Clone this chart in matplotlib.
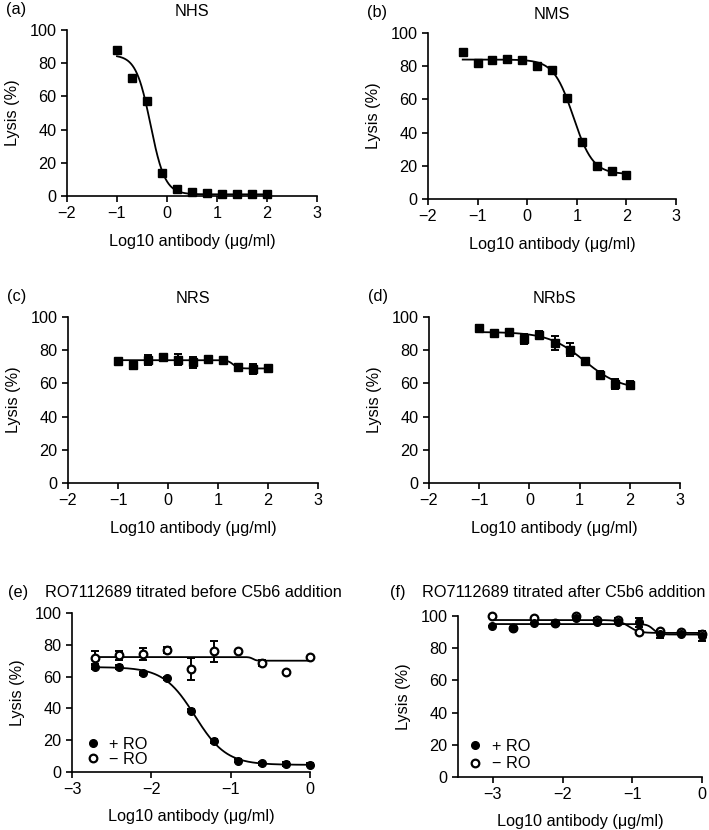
import numpy as np
import matplotlib
matplotlib.use('Agg')
import matplotlib.pyplot as plt
from matplotlib.lines import Line2D

plt.rcParams['font.family'] = ['Liberation Sans', 'DejaVu Sans']
FS = 11.7

# panel (a) NHS
a_x = [-1.0, -0.7, -0.4, -0.1, 0.2, 0.5, 0.8, 1.1, 1.4, 1.7, 2.0]
a_y = [88, 71, 57, 14, 4.5, 2.5, 2, 1.5, 1.5, 1, 1]
a_fit = [85, 1, -0.33, -3.0]  # top, bottom, logIC50, hill

# panel (b) NMS
b_x = [-1.3, -1.0, -0.7, -0.4, -0.1, 0.2, 0.5, 0.8, 1.1, 1.4, 1.7, 2.0]
b_y = [88.4, 82, 84, 84.5, 84, 80.3, 78, 61, 34.3, 20, 17, 14.5]
b_err = [2, 1.5, 1, 1, 1, 1, 1, 1, 1.5, 1, 1, 1]
b_fit = [84, 15, 0.93, -2.2]

# panel (c) NRS
c_x = [-1.0, -0.7, -0.4, -0.1, 0.2, 0.5, 0.8, 1.1, 1.4, 1.7, 2.0]
c_y = [73.3, 70.9, 74.3, 75.7, 74.3, 72.7, 74.7, 74, 69.9, 68.5, 69.3]
c_err = [1, 2, 3, 1, 3.5, 3.5, 1, 1, 2, 3, 1]
c_fit = [74, 69, 1.3, -8]

# panel (d) NRbS
d_x = [-1.0, -0.7, -0.4, -0.1, 0.2, 0.5, 0.8, 1.1, 1.4, 1.7, 2.0]
d_y = [93.4, 90.4, 90.8, 87, 89.4, 84.3, 80.3, 73.3, 65.3, 59.8, 59.2]
d_err = [1.5, 1, 2, 3, 2, 4, 4, 2, 2, 3, 2]
d_fit = [91, 56, 1.1, -1.2]

# panel (e) titrated before C5b6
e_x = [-2.709, -2.408, -2.107, -1.806, -1.505, -1.204, -0.903, -0.602, -0.301, 0]
e_plus = [66, 66, 62, 59, 38.5, 19.5, 7, 5.5, 5, 4.5]
e_plus_err = [1, 1, 1, 1, 1, 1, 1, 1, 1, 1]
e_minus = [72, 73.3, 74.3, 76.8, 64.6, 75.8, 75.8, 68.4, 62.7, 72.6]
e_minus_err = [4.2, 3, 4, 2, 7, 6.5, 0, 2, 0, 0]
e_plus_fit = [66, 4.5, -1.45, -2.2]
e_minus_fit = [72.3, 70, -0.72, -20]

# panel (f) titrated after C5b6
f_x = [-3.010, -2.709, -2.408, -2.107, -1.806, -1.505, -1.204, -0.903, -0.602, -0.301, 0]
f_plus = [93.8, 92.4, 95.5, 95.5, 98.6, 96.5, 96.5, 96, 89, 89, 87.6]
f_plus_err = [0, 1, 0, 0, 0, 1.5, 1, 3, 2.5, 0, 3]
f_minus = [100, 92.4, 98.9, 95.5, 100, 97.5, 97.5, 90.2, 90.5, 90.2, 88.6]
f_minus_err = [0, 0, 0, 0, 0, 1, 1, 0, 1, 0, 0]
f_plus_fit = [95, 88.5, -0.7, -10]
f_minus_fit = [97.5, 89.5, -1.05, -6]

xlabel = 'Log10 antibody (μg/ml)'


def logistic(x, p):
    top, bottom, logic50, hill = p
    return bottom + (top - bottom) / (1 + 10 ** ((logic50 - x) * hill))


def px_axes(fig, left, right, top, bottom):
    W, H = 709, 830
    return fig.add_axes([left / W, 1 - bottom / H, (right - left) / W, (bottom - top) / H])


def style(ax, xlim, xticks, xpad):
    ax.set_xlim(*xlim)
    ax.set_ylim(0, 100)
    ax.set_xticks(xticks)
    ax.set_yticks([0, 20, 40, 60, 80, 100])
    for s in ['top', 'right']:
        ax.spines[s].set_visible(False)
    for s in ['left', 'bottom']:
        ax.spines[s].set_linewidth(1.2)
    ax.tick_params(direction='out', length=4, width=1.2, labelsize=FS, pad=3.5)
    ax.set_xlabel(xlabel, fontsize=FS, labelpad=xpad)
    ax.set_ylabel('Lysis (%)', fontsize=FS, labelpad=7)


def square_panel(ax, x, y, err, fit, name, letter):
    xs = np.linspace(min(x), max(x), 300)
    ax.plot(xs, logistic(xs, fit), color='black', lw=1.3, clip_on=False)
    if err is not None:
        ax.errorbar(x, y, yerr=err, fmt='none', ecolor='black', elinewidth=1.4,
                    capsize=3, capthick=1.4, clip_on=False)
    ax.plot(x, y, 's', color='black', ms=5.8, clip_on=False, zorder=5)
    style(ax, (-2, 3), [-2, -1, 0, 1, 2, 3], 9)
    ax.set_title(name, fontsize=FS, pad=10)
    ax.text(-0.245, 1.095, letter, transform=ax.transAxes, fontsize=FS)


def circle_panel(ax, x, yp, ep, ym, em, fp, fm, xlim, leg_pos, leg_sp):
    xs = np.linspace(min(x), max(x), 300)
    ax.plot(xs, logistic(xs, fm), color='black', lw=1.3, clip_on=False)
    ax.plot(xs, logistic(xs, fp), color='black', lw=1.3, clip_on=False)
    ax.errorbar(x, ym, yerr=em, fmt='none', ecolor='black', elinewidth=1.4,
                capsize=3, capthick=1.4, clip_on=False)
    ax.errorbar(x, yp, yerr=ep, fmt='none', ecolor='black', elinewidth=1.4,
                capsize=3, capthick=1.4, clip_on=False)
    ax.plot(x, ym, 'o', mfc='white', mec='black', mew=1.6, ms=5.5, clip_on=False, zorder=5)
    ax.plot(x, yp, 'o', color='black', ms=5.5, clip_on=False, zorder=6)
    style(ax, xlim, [-3, -2, -1, 0], 8)
    handles = [Line2D([], [], ls='none', marker='o', color='black', ms=5.5),
               Line2D([], [], ls='none', marker='o', mfc='white', mec='black', mew=1.6, ms=5.5)]
    ax.legend(handles, ['+ RO', '− RO'], loc='lower left', frameon=False, fontsize=FS,
              handlelength=1.0, handletextpad=0.5, labelspacing=leg_sp, borderpad=0,
              bbox_to_anchor=leg_pos)


fig = plt.figure(figsize=(7.09, 8.30), dpi=100)

ax_a = px_axes(fig, 67, 317, 30, 196)
square_panel(ax_a, a_x, a_y, None, a_fit, 'NHS', '(a)')

ax_b = px_axes(fig, 428, 676, 33, 199)
square_panel(ax_b, b_x, b_y, b_err, b_fit, 'NMS', '(b)')

ax_c = px_axes(fig, 68, 318, 317, 483)
square_panel(ax_c, c_x, c_y, c_err, c_fit, 'NRS', '(c)')

ax_d = px_axes(fig, 429, 680, 317, 483)
square_panel(ax_d, d_x, d_y, d_err, d_fit, 'NRbS', '(d)')

ax_e = px_axes(fig, 72, 310, 613, 772)
circle_panel(ax_e, e_x, e_plus, e_plus_err, e_minus, e_minus_err,
             e_plus_fit, e_minus_fit, (-3, 0), (0.02, -0.02), 0.0)
fig.text(8 / 709, 1 - 592 / 830, '(e)', fontsize=FS, va='center')
fig.text(45 / 709, 1 - 592 / 830, 'RO7112689 titrated before C5b6 addition',
         fontsize=FS, va='center')

ax_f = px_axes(fig, 458, 702, 616, 777)
circle_panel(ax_f, f_x, f_plus, f_plus_err, f_minus, f_minus_err,
             f_plus_fit, f_minus_fit, (-3.5, 0), (0.005, -0.015), 0.15)
fig.text(390 / 709, 1 - 592 / 830, '(f)', fontsize=FS, va='center')
fig.text(422 / 709, 1 - 592 / 830, 'RO7112689 titrated after C5b6 addition',
         fontsize=FS, va='center')

fig.savefig('out.png', dpi=100)
